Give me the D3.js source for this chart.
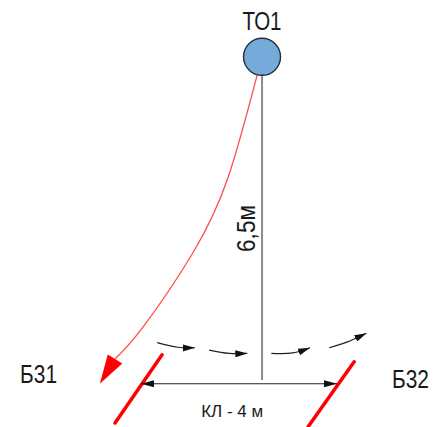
<!DOCTYPE html>
<html>
<head>
<meta charset="utf-8">
<script src="https://cdn.jsdelivr.net/npm/d3@7"></script>
<style>
  html, body { margin: 0; padding: 0; background: #fff; }
  svg { display: block; }
  text { font-family: "Liberation Sans", Arial, sans-serif; fill: #1a1a1a; }
</style>
</head>
<body>
<div id="chart"></div>
<script>
// all values are in metres: x from the left row, y down from the foot of the light
var lightPos = [2.47, -0.41];
var mastX = 2.47;
var mastY = [0, 6.5];
var beamPts = [[2.37, -0.02], [1.78, 2.16], [1.06, 3.78], [0.04, 5.37], [-0.53, 6.05]];
var beamTip = [-0.84, 6.58];
var widthY = 6.58;
var widthX = [0, 4];
var leftRow = [[0.43, 5.96], [-0.53, 7.42]];
var rightRow = [[4.35, 6.11], [3.41, 7.5]];
var flow1 = [[0.33, 5.7], [0.75, 5.8], [1.1, 5.81]];
var flow2 = [[1.39, 5.86], [1.8, 5.93], [2.17, 5.93]];
var flow3 = [[2.66, 5.93], [3.1, 5.92], [3.45, 5.81]];
var flow4 = [[3.84, 5.81], [4.2, 5.69], [4.6, 5.5]];

var labelTexts = ['ТО1', 'Б31', 'Б32', 'КЛ - 4 м'];
var labelPos = [[2.47, -0.98], [-2.09, 6.56], [5.5, 6.67], [1.86, 7.29]];
var heightText = '6,5м';
var heightPos = [2.33, 3.26];

var labelSize = [25, 25, 25, 17];
var labelLen = [39, 37, 37, 62];

var width = 434, height = 427;
var x = d3.scaleLinear().domain([0, 4]).range([141, 337]);
var y = d3.scaleLinear().domain([0, 6.5]).range([76, 380]);

var svg = d3.select('#chart').append('svg')
  .attr('width', width)
  .attr('height', height)
  .attr('viewBox', '0 0 ' + width + ' ' + height);

var defs = svg.append('defs');
function marker(id, color, w, h, auto) {
  defs.append('marker')
    .attr('id', id)
    .attr('markerUnits', 'userSpaceOnUse')
    .attr('viewBox', '0 0 ' + w + ' ' + h)
    .attr('markerWidth', w)
    .attr('markerHeight', h)
    .attr('refX', w)
    .attr('refY', h / 2)
    .attr('orient', auto)
    .append('path')
    .attr('d', 'M0,0L' + w + ',' + (h / 2) + 'L0,' + h + 'Z')
    .attr('fill', color);
}
marker('head', '#111', 12, 7, 'auto');
marker('headBoth', '#111', 13, 7, 'auto-start-reverse');

var line = d3.line().x(function(d) { return x(d[0]); }).y(function(d) { return y(d[1]); });
var curve = d3.line().x(function(d) { return x(d[0]); }).y(function(d) { return y(d[1]); }).curve(d3.curveCatmullRom);
var beamCurve = d3.line().x(function(d) { return x(d[0]); }).y(function(d) { return y(d[1]); }).curve(d3.curveNatural);

// mast
svg.append('line')
  .attr('x1', x(mastX)).attr('x2', x(mastX))
  .attr('y1', y(mastY[0])).attr('y2', y(mastY[1]))
  .attr('stroke', '#8c8c8c').attr('stroke-width', 2);

// light beam
svg.append('path')
  .attr('d', beamCurve(beamPts))
  .attr('fill', 'none')
  .attr('stroke', '#ff4d4d')
  .attr('stroke-width', 1.3);

var last = beamPts[beamPts.length - 1];
var a = Math.atan2(y(beamTip[1]) - y(last[1]), x(beamTip[0]) - x(last[0]));
var bx = x(last[0]), by = y(last[1]);
svg.append('path')
  .attr('d', 'M' + x(beamTip[0]) + ',' + y(beamTip[1]) +
    'L' + (bx + 8.5 * Math.cos(a + Math.PI / 2)) + ',' + (by + 8.5 * Math.sin(a + Math.PI / 2)) +
    'L' + (bx - 8.5 * Math.cos(a + Math.PI / 2)) + ',' + (by - 8.5 * Math.sin(a + Math.PI / 2)) + 'Z')
  .attr('fill', '#ff0000');

// rows of the road
svg.selectAll('.row')
  .data([leftRow, rightRow])
  .enter().append('path')
  .attr('class', 'row')
  .attr('d', line)
  .attr('stroke', '#ff0000')
  .attr('stroke-width', 3.5)
  .attr('stroke-linecap', 'round')
  .attr('fill', 'none');

// width dimension
svg.append('line')
  .attr('x1', x(widthX[0])).attr('x2', x(widthX[1]))
  .attr('y1', y(widthY)).attr('y2', y(widthY))
  .attr('stroke', '#222').attr('stroke-width', 1.1)
  .attr('marker-start', 'url(#headBoth)')
  .attr('marker-end', 'url(#headBoth)');

// traffic direction
svg.selectAll('.flow')
  .data([flow1, flow2, flow3, flow4])
  .enter().append('path')
  .attr('class', 'flow')
  .attr('d', curve)
  .attr('fill', 'none')
  .attr('stroke', '#222')
  .attr('stroke-width', 1.2)
  .attr('marker-end', 'url(#head)');

// light
svg.append('circle')
  .attr('cx', x(lightPos[0]))
  .attr('cy', y(lightPos[1]))
  .attr('r', 18.5)
  .attr('fill', '#75aadb')
  .attr('stroke', '#24303a')
  .attr('stroke-width', 1.4);

// the original lettering is narrower than Liberation, so squeeze it sideways
function squeeze(sel, len, place) {
  var sx = len / sel.node().getComputedTextLength();
  sel.attr('text-anchor', 'middle').attr('transform', place + 'scale(' + sx + ',1)');
}

labelTexts.forEach(function(t, i) {
  var label = svg.append('text')
    .attr('class', 'label')
    .attr('font-size', labelSize[i])
    .text(t);
  squeeze(label, labelLen[i], 'translate(' + x(labelPos[i][0]) + ',' + y(labelPos[i][1]) + ')');
});

// height label
var heightLabel = svg.append('text')
  .attr('font-size', 25)
  .text(heightText);
squeeze(heightLabel, 47, 'translate(' + x(heightPos[0]) + ',' + y(heightPos[1]) + ')rotate(-90)');
</script>
</body>
</html>
